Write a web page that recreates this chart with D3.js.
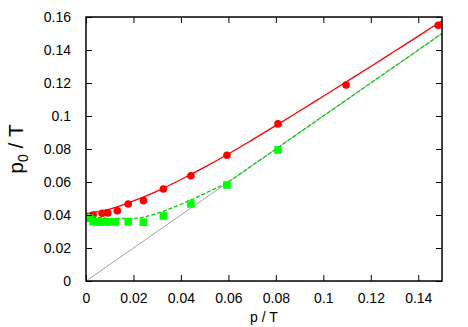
<!DOCTYPE html>
<html>
<head>
<meta charset="utf-8">
<script src="https://cdn.jsdelivr.net/npm/d3@7"></script>
<style>
  body { margin: 0; background: #fff; }
  text { font-family: "Liberation Sans", Arial, sans-serif; }
</style>
</head>
<body>
<svg id="chart" width="468" height="327"></svg>
<script>
// measured points (red circles)
var redX = [0.0030, 0.0068, 0.0092, 0.0132, 0.0178, 0.0242, 0.0326, 0.0442, 0.0594, 0.0809, 0.1096, 0.1484];
var redY = [0.0400, 0.0410, 0.0412, 0.0426, 0.0467, 0.0487, 0.0558, 0.0638, 0.0762, 0.0952, 0.1188, 0.1550];

// measured points (green squares)
var greenX = [0.0015, 0.0030, 0.0045, 0.0060, 0.0080, 0.0100, 0.0125, 0.0178, 0.0242, 0.0326, 0.0442, 0.0594, 0.0809];
var greenY = [0.0380, 0.0360, 0.0358, 0.0358, 0.0358, 0.0358, 0.0358, 0.0358, 0.0356, 0.0394, 0.0467, 0.0582, 0.0794];

// fitted curves
var fitX      = [0, 0.01, 0.02, 0.03, 0.04, 0.05, 0.06, 0.07, 0.08, 0.09, 0.10, 0.11, 0.12, 0.13, 0.14, 0.15];
var redFitY   = [0.0408, 0.0435, 0.0485, 0.0545, 0.0615, 0.0690, 0.0770, 0.0855, 0.0942, 0.1030, 0.1120, 0.1210, 0.1300, 0.1392, 0.1484, 0.1577];
var greenFitY = [0.0400, 0.0380, 0.0380, 0.0410, 0.0465, 0.0530, 0.0603, 0.0700, 0.0800, 0.0900, 0.1000, 0.1100, 0.1200, 0.1300, 0.1400, 0.1500];

// diagonal p0 = p
var diagX = [0, 0.15];
var diagY = [0, 0.15];

var xTicks = [0, 0.02, 0.04, 0.06, 0.08, 0.1, 0.12, 0.14];
var yTicks = [0, 0.02, 0.04, 0.06, 0.08, 0.1, 0.12, 0.14, 0.16];

var svg = d3.select('#chart');
var plotLeft = 86, plotRight = 442, plotTop = 17, plotBottom = 281;

var x = d3.scaleLinear().domain([0, 0.15]).range([plotLeft, plotRight]);
var y = d3.scaleLinear().domain([0, 0.16]).range([plotBottom, plotTop]);

function zip(xs, ys) {
   return xs.map(function(v, i) { return [v, ys[i]]; });
}

var line = d3.line()
    .x(function(d) { return x(d[0]); })
    .y(function(d) { return y(d[1]); })
    .curve(d3.curveMonotoneX);

svg.append('clipPath').attr('id', 'clip')
   .append('rect')
   .attr('x', plotLeft).attr('y', plotTop)
   .attr('width', plotRight - plotLeft).attr('height', plotBottom - plotTop);

var plot = svg.append('g').attr('clip-path', 'url(#clip)');

plot.append('path')
   .datum(zip(diagX, diagY))
   .attr('d', line)
   .attr('fill', 'none')
   .attr('stroke', '#a0a0a0')
   .attr('stroke-width', 1);

plot.append('path')
   .datum(zip(fitX, redFitY))
   .attr('d', line)
   .attr('fill', 'none')
   .attr('stroke', '#ff0000')
   .attr('stroke-width', 1.3);

plot.selectAll('circle.red')
   .data(zip(redX, redY))
   .enter().append('circle')
   .attr('class', 'red')
   .attr('cx', function(d) { return x(d[0]); })
   .attr('cy', function(d) { return y(d[1]); })
   .attr('r', 3.8)
   .attr('fill', '#ff0000');

plot.append('path')
   .datum(zip(fitX, greenFitY))
   .attr('d', line)
   .attr('fill', 'none')
   .attr('stroke', '#00d000')
   .attr('stroke-width', 1.3)
   .attr('stroke-dasharray', '4,2');

plot.selectAll('rect.green')
   .data(zip(greenX, greenY))
   .enter().append('rect')
   .attr('class', 'green')
   .attr('x', function(d) { return x(d[0]) - 3.8; })
   .attr('y', function(d) { return y(d[1]) - 3.8; })
   .attr('width', 7.6)
   .attr('height', 7.6)
   .attr('fill', '#00ff00');

// axes with inward ticks on all four sides
var fmt = function(d) { return String(+d.toFixed(2)); };

svg.append('g')
   .attr('transform', 'translate(0,' + plotBottom + ')')
   .call(d3.axisBottom(x).tickValues(xTicks).tickSizeInner(-6).tickSizeOuter(0).tickPadding(12).tickFormat(fmt));
svg.append('g')
   .attr('transform', 'translate(0,' + plotTop + ')')
   .call(d3.axisTop(x).tickValues(xTicks).tickSizeInner(-6).tickSizeOuter(0).tickFormat(''));
svg.append('g')
   .attr('transform', 'translate(' + plotLeft + ',0)')
   .call(d3.axisLeft(y).tickValues(yTicks).tickSizeInner(-6).tickSizeOuter(0).tickPadding(15).tickFormat(fmt));
svg.append('g')
   .attr('transform', 'translate(' + plotRight + ',0)')
   .call(d3.axisRight(y).tickValues(yTicks).tickSizeInner(-6).tickSizeOuter(0).tickFormat(''));

svg.selectAll('.domain').remove();
svg.selectAll('.tick line').attr('stroke', '#000').attr('stroke-width', 1);
svg.selectAll('.tick text')
   .style('font-size', '14px')
   .attr('fill', '#000');

svg.append('rect')
   .attr('x', plotLeft).attr('y', plotTop)
   .attr('width', plotRight - plotLeft).attr('height', plotBottom - plotTop)
   .attr('fill', 'none')
   .attr('stroke', '#000')
   .attr('stroke-width', 1.5);

svg.append('text')
   .attr('x', (plotLeft + plotRight) / 2)
   .attr('y', 322)
   .attr('text-anchor', 'middle')
   .style('font-size', '14px')
   .text('p / T');

var ylab = svg.append('text')
   .attr('transform', 'translate(23,149) rotate(-90)')
   .attr('text-anchor', 'middle')
   .style('font-size', '21px');
ylab.append('tspan').text('p');
ylab.append('tspan').attr('dy', 5).style('font-size', '14px').text('0');
ylab.append('tspan').attr('dy', -5).text(' / T');
</script>
</body>
</html>
